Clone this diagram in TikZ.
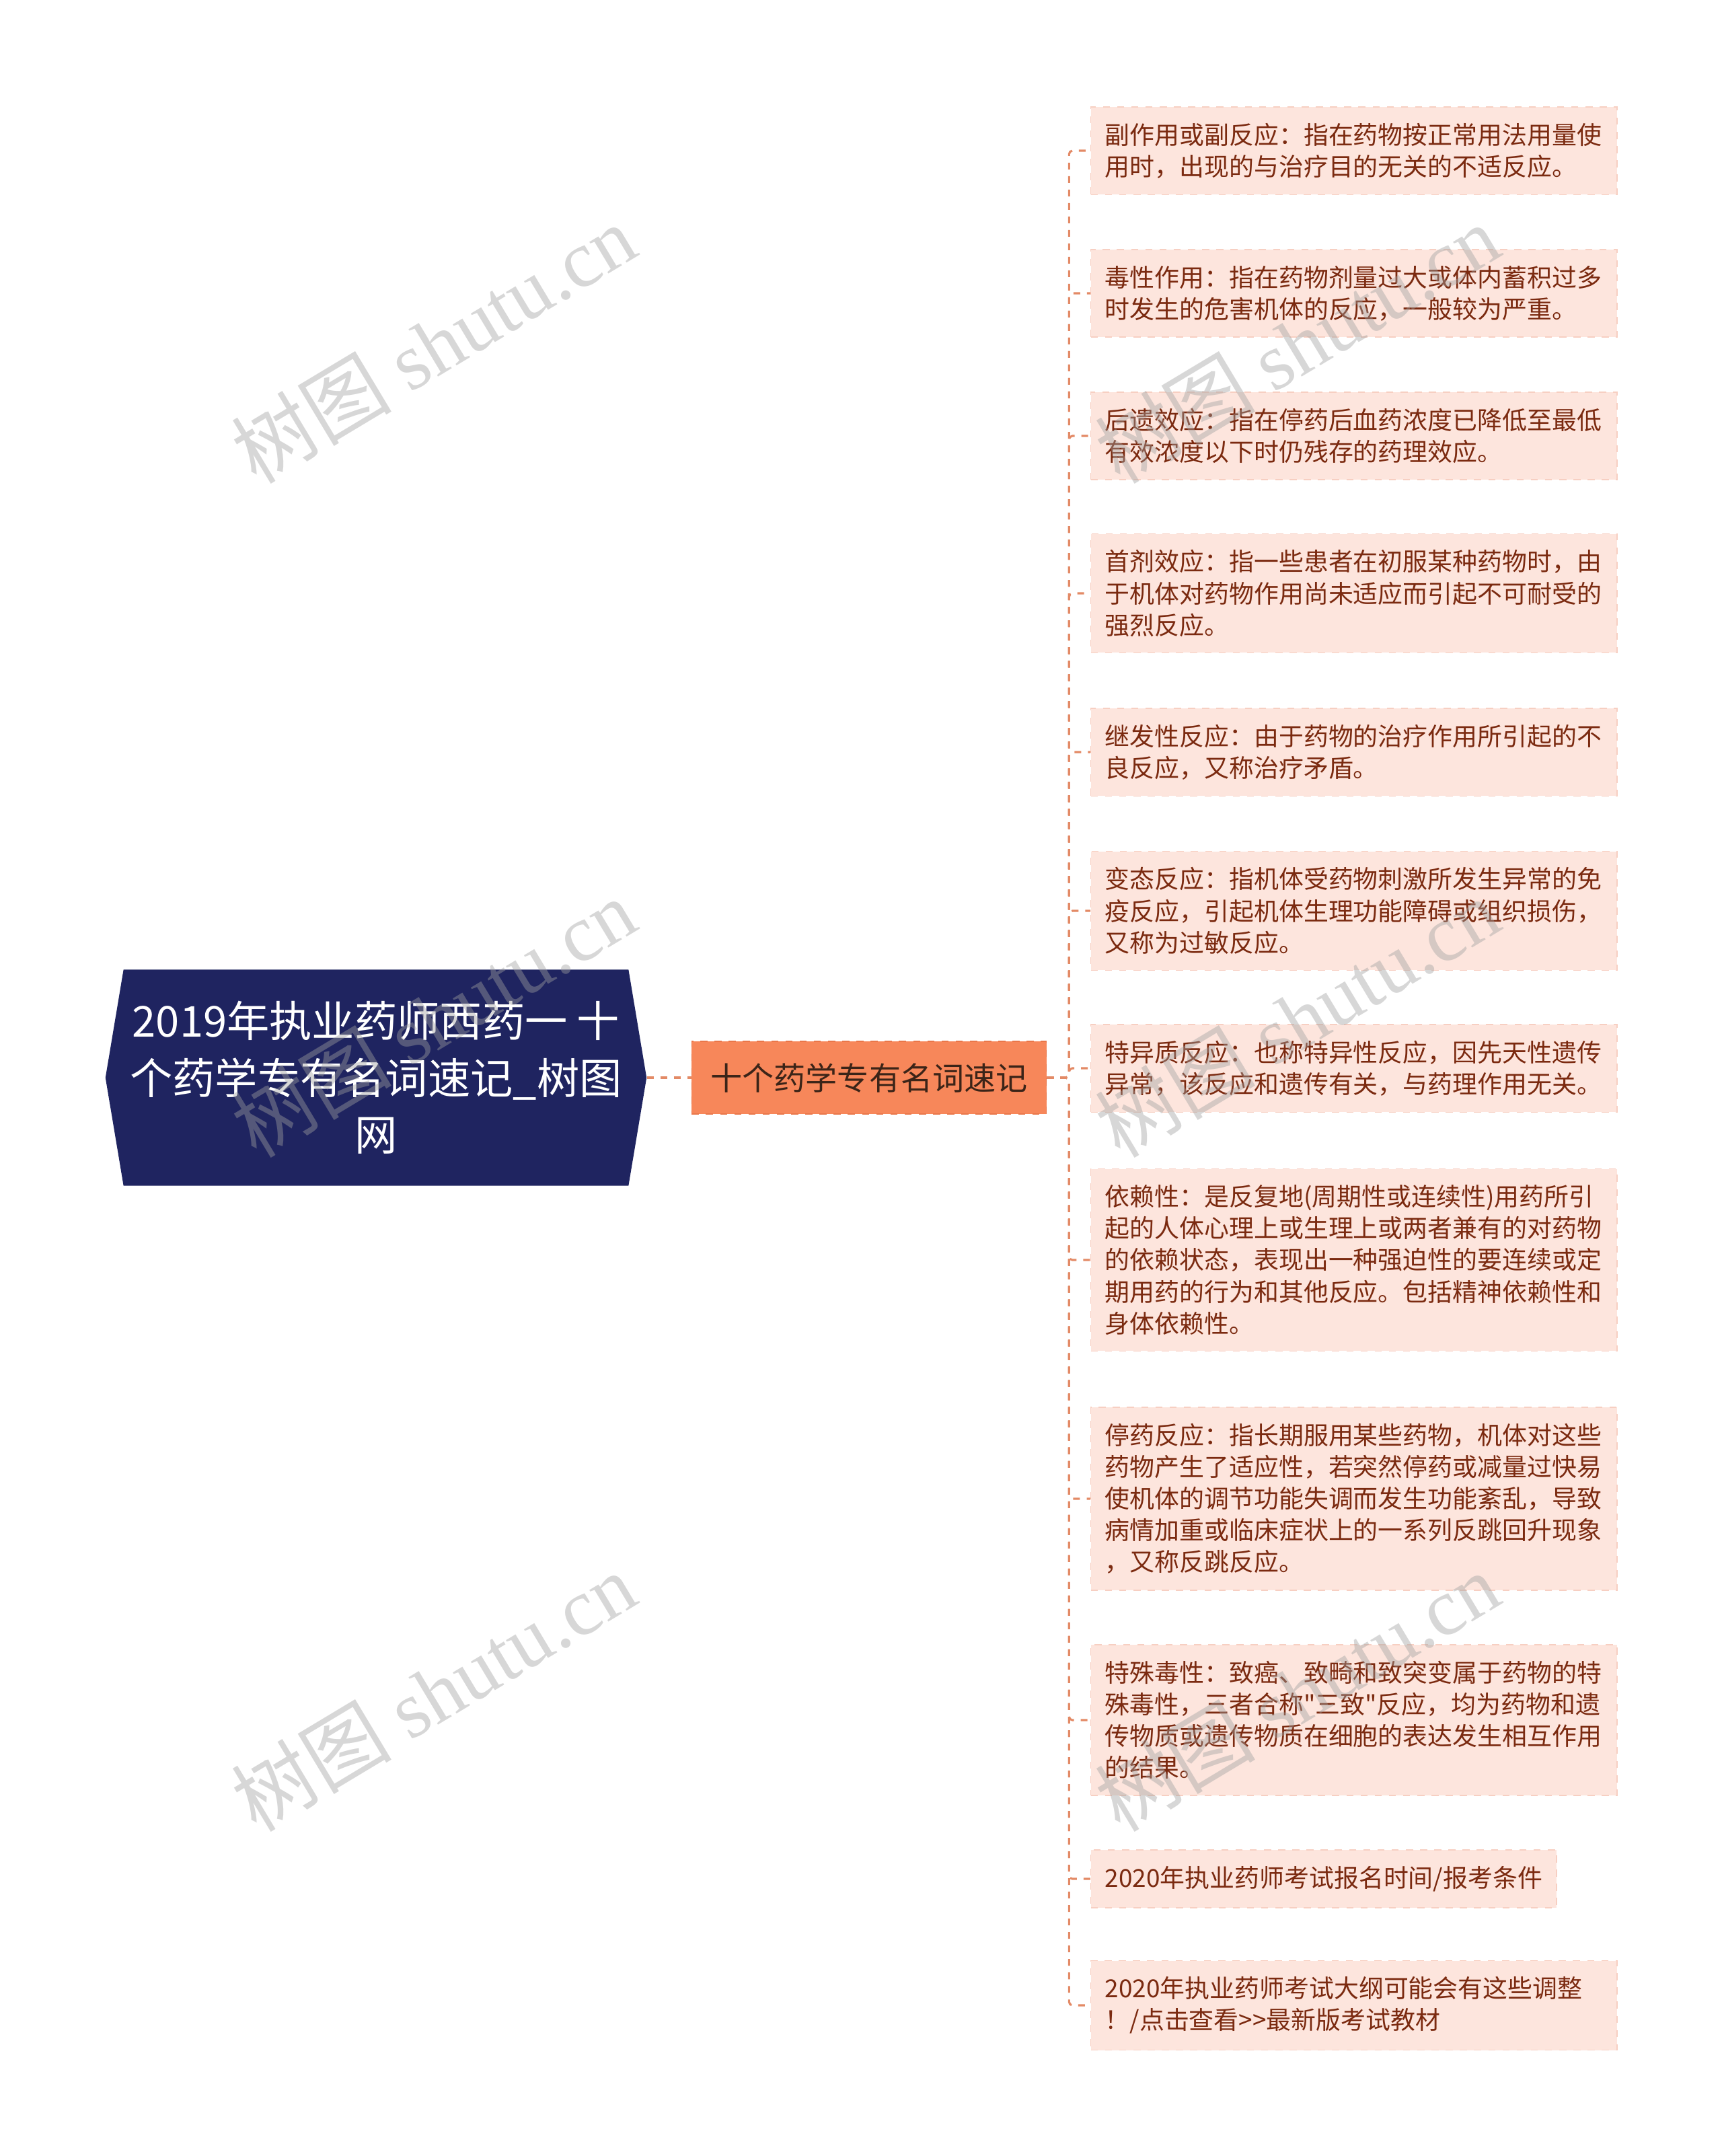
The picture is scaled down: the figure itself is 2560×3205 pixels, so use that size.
\documentclass[tikz,border=0pt]{standalone}
\usepackage{fontspec}
\newfontfamily\cjk{Noto Sans CJK SC}
\newfontfamily\wmlatin{Liberation Serif}
\usetikzlibrary{shapes.symbols}

\definecolor{rootnavy}{HTML}{1F2460}
\definecolor{midfill}{HTML}{F7875A}
\definecolor{midline}{HTML}{E9774A}
\definecolor{midtext}{HTML}{3B2418}
\definecolor{leaffill}{HTML}{FDE5DD}
\definecolor{leafline}{HTML}{F7CFC2}
\definecolor{leaftext}{HTML}{7B2A10}
\definecolor{linkcol}{HTML}{E38A66}
\definecolor{wmgray}{HTML}{A0A0A0}

\tikzset{
  rootbox/.style={shape=signal, signal to=east and west, signal pointer angle=161,
    fill=rootnavy, text=white, align=center, minimum width=8.04cm, minimum height=3.21cm,
    inner sep=0pt, font=\cjk\fontsize{18pt}{24pt}\selectfont},
  midbox/.style={fill=midfill, draw=midline, dashed, text=midtext, minimum width=5.27cm,
    minimum height=1.08cm, font=\cjk\fontsize{13.4pt}{16pt}\selectfont},
  leafbox/.style={anchor=west, fill=leaffill, draw=leafline, dashed, text=leaftext,
    align=left, inner xsep=0.21cm, inner ysep=0.24cm, font=\cjk\fontsize{10.5pt}{13.4pt}\selectfont},
  leaf/.style={leafbox, text width=7.4cm},
  link/.style={draw=linkcol, line width=0.9pt, dash pattern=on 0.1cm off 0.1cm, rounded corners=0.05cm},
  wm/.style={text=wmgray, opacity=0.42, rotate=31, font=\cjk\fontsize{34pt}{34pt}\selectfont}
}

\begin{document}
\begin{tikzpicture}[x=0.01cm, y=-0.01cm]
  \useasboundingbox (0,0) rectangle (2560,3205);

  % centre
  \node[rootbox] (root) at (559,1602) {2019年执业药师西药一 十\\个药学专有名词速记\_树图\\网};
  \node[midbox] (mid) at (1292,1602) {十个药学专有名词速记};

  % terms
  \node[leaf] (l1) at (1621,224) {副作用或副反应：指在药物按正常用法用量使\\用时，出现的与治疗目的无关的不适反应。};
  \node[leaf] (l2) at (1621,436) {毒性作用：指在药物剂量过大或体内蓄积过多\\时发生的危害机体的反应，一般较为严重。};
  \node[leaf] (l3) at (1621,648) {后遗效应：指在停药后血药浓度已降低至最低\\有效浓度以下时仍残存的药理效应。};
  \node[leaf] (l4) at (1621,882) {首剂效应：指一些患者在初服某种药物时，由\\于机体对药物作用尚未适应而引起不可耐受的\\强烈反应。};
  \node[leaf] (l5) at (1621,1118) {继发性反应：由于药物的治疗作用所引起的不\\良反应，又称治疗矛盾。};
  \node[leaf] (l6) at (1621,1354) {变态反应：指机体受药物刺激所发生异常的免\\疫反应，引起机体生理功能障碍或组织损伤，\\又称为过敏反应。};
  \node[leaf] (l7) at (1621,1588) {特异质反应：也称特异性反应，因先天性遗传\\异常，该反应和遗传有关，与药理作用无关。};
  \node[leaf] (l8) at (1621,1873) {依赖性：是反复地(周期性或连续性)用药所引\\起的人体心理上或生理上或两者兼有的对药物\\的依赖状态，表现出一种强迫性的要连续或定\\期用药的行为和其他反应。包括精神依赖性和\\身体依赖性。};
  \node[leaf] (l9) at (1621,2228) {停药反应：指长期服用某些药物，机体对这些\\药物产生了适应性，若突然停药或减量过快易\\使机体的调节功能失调而发生功能紊乱，导致\\病情加重或临床症状上的一系列反跳回升现象\\，又称反跳反应。};
  \node[leaf] (l10) at (1621,2557) {特殊毒性：致癌、致畸和致突变属于药物的特\\殊毒性，三者合称"三致"反应，均为药物和遗\\传物质或遗传物质在细胞的表达发生相互作用\\的结果。};
  \node[leafbox] (l11) at (1621,2793) {2020年执业药师考试报名时间/报考条件};
  \node[leaf] (l12) at (1621,2981) {2020年执业药师考试大纲可能会有这些调整\\！/点击查看>>最新版考试教材};

  % links
  \draw[link] (root.east) -- (mid.west);
  \foreach \i in {1,...,12}
    \draw[link] (mid.east) -- ++(33,0) |- (l\i.west);

  % watermark
  \node[wm] (wm1) at (644,511) {树图 {\wmlatin shutu.cn}};
  \node[wm] (wm2) at (1928,511) {树图 {\wmlatin shutu.cn}};
  \node[wm] (wm3) at (644,1513) {树图 {\wmlatin shutu.cn}};
  \node[wm] (wm4) at (1928,1513) {树图 {\wmlatin shutu.cn}};
  \node[wm] (wm5) at (644,2515) {树图 {\wmlatin shutu.cn}};
  \node[wm] (wm6) at (1928,2515) {树图 {\wmlatin shutu.cn}};
\end{tikzpicture}
\end{document}
